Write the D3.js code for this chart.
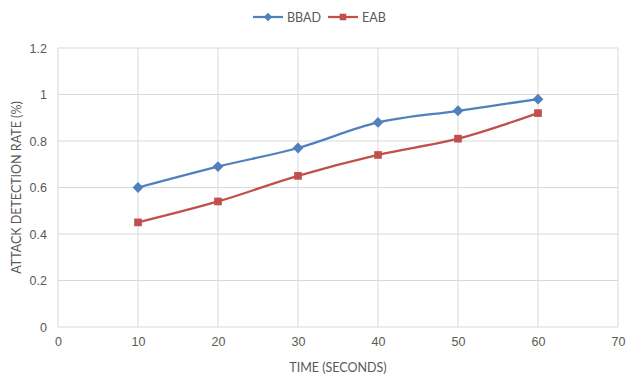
<!DOCTYPE html>
<html lang="en">
<head>
  <meta charset="UTF-8" />
  <title>Attack detection rate</title>
  <script src="https://cdnjs.cloudflare.com/ajax/libs/d3/7.8.2/d3.min.js"></script>
  <style>
    body { margin: 0; padding: 0; background: #fff; }
    svg { display: block; font-family: Lato, "Open Sans", sans-serif; }
    .tick text { fill: #595959; font-size: 12.5px; }
    .grid line { stroke: #d9d9d9; stroke-width: 1px; }
  </style>
</head>
<body>
<svg id="chart"></svg>
<script>
// data
const times = [10, 20, 30, 40, 50, 60];
const bbad = [0.6, 0.69, 0.77, 0.88, 0.93, 0.98];
const eab = [0.45, 0.54, 0.65, 0.74, 0.81, 0.92];
const xTicks = [0, 10, 20, 30, 40, 50, 60, 70];
const yTicks = [0, 0.2, 0.4, 0.6, 0.8, 1, 1.2];

const width = 627, height = 375;
const margin = { top: 48, right: 9, bottom: 48, left: 58 };

const svg = d3.select("#chart").attr("width", width).attr("height", height);

const x = d3.scaleLinear().domain([0, 70]).range([margin.left, width - margin.right]);
const y = d3.scaleLinear().domain([0, 1.2]).range([height - margin.bottom, margin.top]);

// gridlines
const grid = svg.append("g").attr("class", "grid");
grid.selectAll("line.h").data(yTicks).enter().append("line")
  .attr("x1", x(0)).attr("x2", x(70))
  .attr("y1", d => y(d)).attr("y2", d => y(d));
grid.selectAll("line.v").data(xTicks).enter().append("line")
  .attr("y1", y(0)).attr("y2", y(1.2))
  .attr("x1", d => x(d)).attr("x2", d => x(d));

// axes (labels only)
const yAxis = svg.append("g")
  .attr("transform", `translate(${x(0)},0)`)
  .call(d3.axisLeft(y).tickValues(yTicks).tickSize(0).tickPadding(11).tickFormat(d3.format("~g")));
yAxis.select(".domain").remove();

const xAxis = svg.append("g")
  .attr("transform", `translate(0,${y(0)})`)
  .call(d3.axisBottom(x).tickValues(xTicks).tickSize(0).tickPadding(10));
xAxis.select(".domain").remove();

// axis titles
svg.append("text")
  .attr("x", x(35)).attr("y", 372)
  .attr("text-anchor", "middle")
  .attr("fill", "#595959").attr("font-size", 12.5)
  .text("TIME (SECONDS)");

svg.append("text")
  .attr("transform", `translate(21,${y(0.6)}) rotate(-90)`)
  .attr("text-anchor", "middle")
  .attr("fill", "#595959").attr("font-size", 12.5)
  .text("ATTACK DETECTION RATE (%)");

// series
const series = [
  { name: "BBAD", values: bbad, color: "#4F81BD", symbol: d3.symbolDiamond2, size: 75 },
  { name: "EAB", values: eab, color: "#C0504D", symbol: d3.symbolSquare2, size: 75 }
];

const line = d3.line()
  .x((d, i) => x(times[i]))
  .y(d => y(d))
  .curve(d3.curveCatmullRom.alpha(0.5));

series.forEach(s => {
  svg.append("path")
    .datum(s.values)
    .attr("fill", "none")
    .attr("stroke", s.color)
    .attr("stroke-width", 2.25)
    .attr("d", line);

  svg.selectAll(null).data(s.values).enter().append("path")
    .attr("transform", (d, i) => `translate(${x(times[i])},${y(d)})`)
    .attr("d", d3.symbol().type(s.symbol).size(s.size))
    .attr("fill", s.color);
});

// legend
const legend = svg.append("g").attr("transform", "translate(253,17)");
const legendX = [0, 75];
series.forEach((s, i) => {
  const g = legend.append("g").attr("transform", `translate(${legendX[i]},0)`);
  g.append("line").attr("x1", 0).attr("x2", 30).attr("y1", 0).attr("y2", 0)
    .attr("stroke", s.color).attr("stroke-width", 2.25);
  g.append("path").attr("transform", "translate(15,0)")
    .attr("d", d3.symbol().type(s.symbol).size(i === 0 ? 45 : 55))
    .attr("fill", s.color);
  g.append("text").attr("x", 34).attr("y", 4.5)
    .attr("fill", "#595959").attr("font-size", 12.5)
    .text(s.name);
});
</script>
</body>
</html>
